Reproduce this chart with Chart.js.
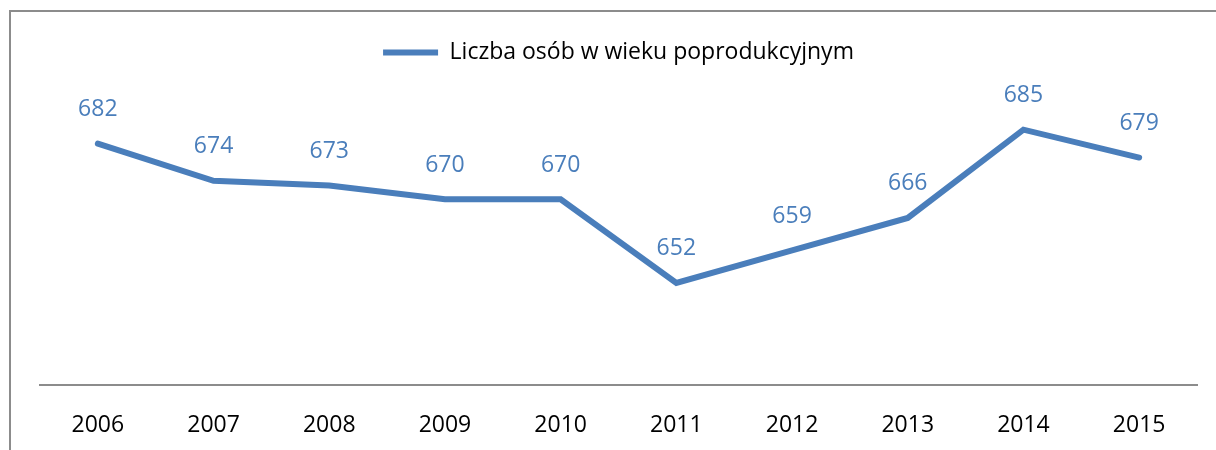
<!DOCTYPE html>
<html>
<head>
<meta charset="utf-8">
<script src="https://cdn.jsdelivr.net/npm/chart.js@4"></script>
<style>
  body { margin: 0; background: #fff; }
  #wrap { position: relative; width: 1216px; height: 450px; }
</style>
</head>
<body>
<div id="wrap"><canvas id="lineChart"></canvas></div>
<script>
const years = ['2006', '2007', '2008', '2009', '2010', '2011', '2012', '2013', '2014', '2015'];
const seniors = [682, 674, 673, 670, 670, 652, 659, 666, 685, 679];
const seriesName = 'Liczba osób w wieku poprodukcyjnym';

const blue = '#4a7ebb';
const fontFamily = "'Open Sans', sans-serif";

// grey frame round the chart, as in the source document
const framePlugin = {
    id: 'frame',
    beforeDraw(chart) {
        const ctx = chart.ctx;
        ctx.save();
        ctx.strokeStyle = '#8c8c8c';
        ctx.lineWidth = 2;
        ctx.strokeRect(10, 11, chart.width + 20, chart.height + 20);
        ctx.restore();
    }
};

// value above each point
const valueLabels = {
    id: 'valueLabels',
    afterDatasetsDraw(chart) {
        const ctx = chart.ctx;
        const meta = chart.getDatasetMeta(0);
        ctx.save();
        ctx.fillStyle = blue;
        ctx.font = '23px ' + fontFamily;
        ctx.textAlign = 'center';
        ctx.textBaseline = 'middle';
        meta.data.forEach((pt, i) => {
            ctx.fillText(seniors[i], pt.x, pt.y - 34);
        });
        ctx.restore();
    }
};

const ctx = document.getElementById('lineChart');

const lineChart = new Chart(ctx, {
    type: 'line',
    data: {
        labels: years,
        datasets: [{
            label: seriesName,
            data: seniors,
            borderColor: blue,
            backgroundColor: blue,
            borderWidth: 6,
            borderCapStyle: 'round',
            borderJoinStyle: 'miter',
            pointRadius: 0,
            tension: 0
        }]
    },
    options: {
        responsive: true,
        maintainAspectRatio: false,
        animation: false,
        layout: {
            padding: { top: 31, left: 40, right: 19, bottom: 0 }
        },
        plugins: {
            legend: {
                position: 'top',
                labels: {
                    color: '#000',
                    font: { family: fontFamily, size: 23 },
                    boxWidth: 55,
                    boxHeight: 6,
                    padding: 10,
                    generateLabels(chart) {
                        const items = Chart.defaults.plugins.legend.labels.generateLabels(chart);
                        items.forEach(it => { it.lineWidth = 0; it.fillStyle = blue; });
                        return items;
                    }
                }
            },
            tooltip: { enabled: false }
        },
        scales: {
            x: {
                offset: true,
                grid: { display: false, drawTicks: false },
                border: { display: true, color: '#8c8c8c', width: 2 },
                ticks: {
                    color: '#000',
                    padding: 27,
                    font: { family: fontFamily, size: 23 }
                },
                afterFit(scale) { scale.height = 65; }
            },
            y: {
                display: false,
                min: 630,
                max: 697
            }
        }
    },
    plugins: [framePlugin, valueLabels]
});
</script>
</body>
</html>
